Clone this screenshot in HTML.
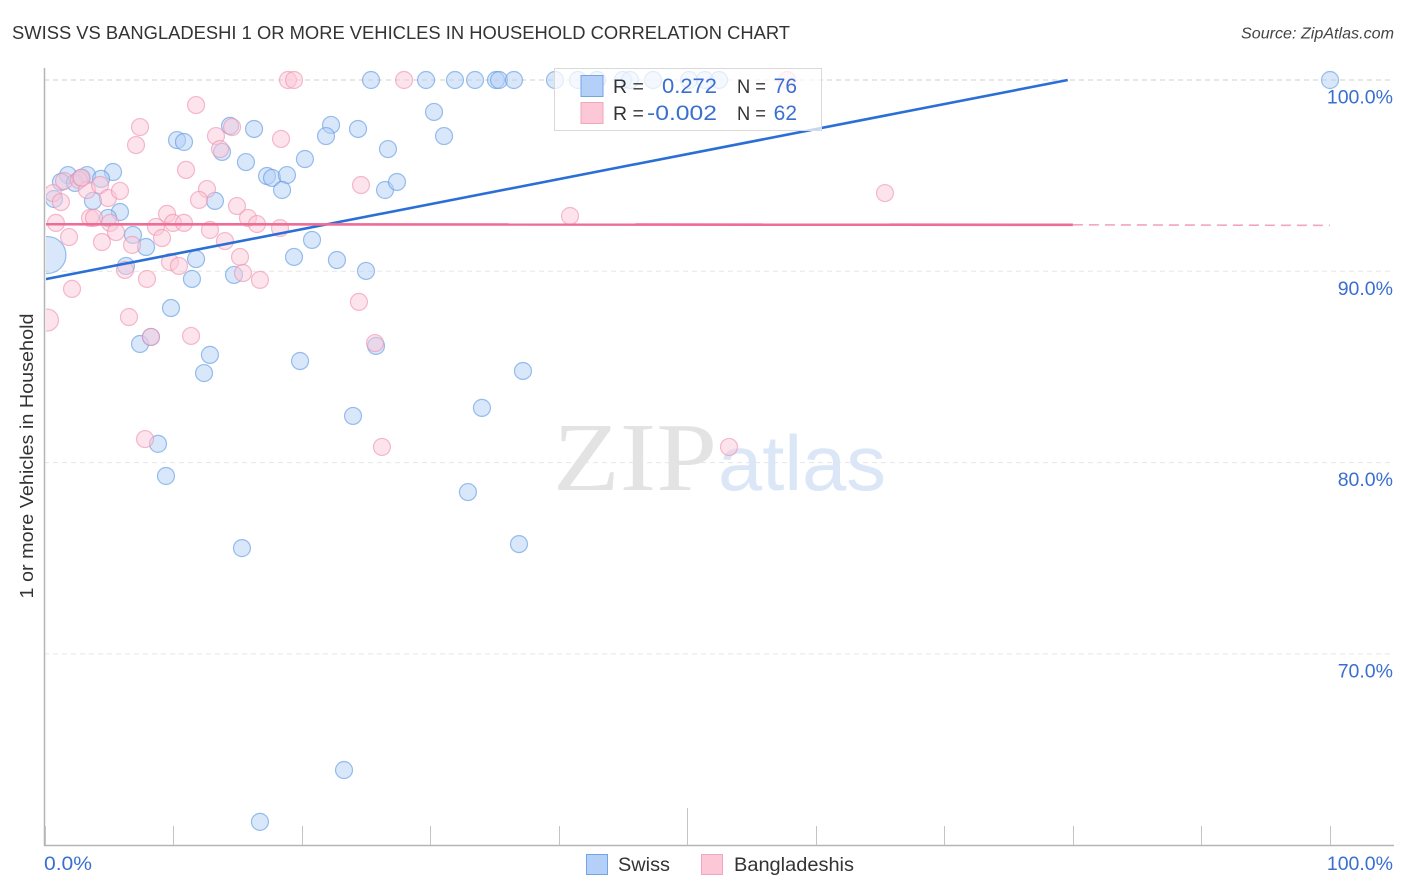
<!DOCTYPE html>
<html lang="en">
<head>
<meta charset="utf-8">
<title>Swiss vs Bangladeshi 1 or more Vehicles in Household Correlation Chart</title>
<style>
html,body{margin:0;padding:0;background:#fff;}
body{width:1406px;height:892px;overflow:hidden;}
svg{display:block;font-family:"Liberation Sans",sans-serif;}
</style>
</head>
<body>
<svg id="chart" width="1406" height="892" viewBox="0 0 1406 892" xmlns="http://www.w3.org/2000/svg">
<defs><clipPath id="plot-clip"><rect x="46" y="60" width="1350" height="785"/></clipPath></defs>
<rect width="1406" height="892" fill="#fff"/>
<text x="12" y="39" font-size="18.5" fill="#333" textLength="778" lengthAdjust="spacingAndGlyphs">SWISS VS BANGLADESHI 1 OR MORE VEHICLES IN HOUSEHOLD CORRELATION CHART</text>
<text x="1394" y="38.5" font-size="16" font-style="italic" fill="#444" text-anchor="end" textLength="153" lengthAdjust="spacingAndGlyphs">Source: ZipAtlas.com</text>
<g id="grid"></g>
<g>
<text x="553" y="490" font-family="'Liberation Serif',serif" font-size="98" fill="#e3e3e3" textLength="164" lengthAdjust="spacingAndGlyphs">ZIP</text>
<text x="718" y="490" font-size="78" fill="#dbe6f7" textLength="168" lengthAdjust="spacingAndGlyphs">atlas</text>
</g>
<g id="swiss-points" clip-path="url(#plot-clip)"></g>
<g id="bangladeshi-points" clip-path="url(#plot-clip)"></g>
<g id="trends" clip-path="url(#plot-clip)"></g>
<g id="axes"></g>
<text transform="translate(33,456) rotate(-90)" font-size="18.5" fill="#333" text-anchor="middle" textLength="285" lengthAdjust="spacingAndGlyphs">1 or more Vehicles in Household</text>
<g>
<rect x="554.5" y="68.5" width="267" height="62" fill="#fff" fill-opacity="0.72" stroke="#d9d9d9" stroke-width="1"/>
<rect x="581" y="75.5" width="22" height="21" fill="#b4d0f8" stroke="#73a5e6" stroke-width="1"/>
<rect x="581" y="102.5" width="22" height="21" fill="#fcc8d8" stroke="#f2a5bc" stroke-width="1"/>
<text x="613" y="93" font-size="19.5" fill="#333">R =</text>
<text x="662" y="93" font-size="21" fill="#3a6fd0" textLength="55" lengthAdjust="spacingAndGlyphs">0.272</text>
<text x="737" y="93" font-size="19.5" fill="#333" textLength="29" lengthAdjust="spacingAndGlyphs">N =</text>
<text x="797" y="93" font-size="21" fill="#3a6fd0" text-anchor="end">76</text>
<text x="613" y="120" font-size="19.5" fill="#333">R =</text>
<text x="647" y="120" font-size="21" fill="#3a6fd0" textLength="70" lengthAdjust="spacingAndGlyphs">-0.002</text>
<text x="737" y="120" font-size="19.5" fill="#333" textLength="29" lengthAdjust="spacingAndGlyphs">N =</text>
<text x="797" y="120" font-size="21" fill="#3a6fd0" text-anchor="end">62</text>
</g>
<g>
<rect x="586.5" y="854.5" width="21" height="20" fill="#b4d0f8" stroke="#73a5e6" stroke-width="1"/>
<text x="618" y="871" font-size="19.5" fill="#333" textLength="52" lengthAdjust="spacingAndGlyphs">Swiss</text>
<rect x="701.5" y="854.5" width="21" height="20" fill="#fcc8d8" stroke="#f2a5bc" stroke-width="1"/>
<text x="734" y="871" font-size="19.5" fill="#333" textLength="120" lengthAdjust="spacingAndGlyphs">Bangladeshis</text>
</g>
</svg>
<script>
const yTickValues = [100, 90, 80, 70];
const yTickLabels = ["100.0%", "90.0%", "80.0%", "70.0%"];
const xTickValues = [0, 10, 20, 30, 40, 50, 60, 70, 80, 90, 100];
const xEndLabels = ["0.0%", "100.0%"];

const swissX = [25.40,29.68,31.93,33.49,35.12,35.36,36.52,39.71,41.50,42.98,45.00,45.55,47.34,50.14,51.38,52.47,100,
14.43,16.30,10.31,10.85,13.81,22.29,21.90,24.39,26.72,20.26,
15.67,17.31,17.70,18.86,18.48,26.49,27.42,5.33,3.31,1.83,
1.28,2.37,2.84,4.40,0.74,3.77,5.87,4.94,13.26,6.88,
7.90,0.23,6.34,11.79,11.47,14.74,19.41,20.81,22.75,25.01,
9.84,7.43,8.28,12.87,12.41,19.88,25.79,30.30,31.08,37.22,
34.03,24.00,8.83,9.45,32.94,36.91,15.36,23.30,16.76];
const swissY = [100,100,100,100,100,100,100,100,100,100,100,100,100,100,100,100,100,
97.60,97.44,96.86,96.76,96.24,97.65,97.07,97.44,96.39,95.87,
95.71,94.98,94.88,95.03,94.25,94.25,94.67,95.19,95.03,95.03,
94.67,94.62,94.88,94.83,93.78,93.68,93.10,92.79,93.68,91.90,
91.27,90.85,90.28,90.64,89.60,89.81,90.75,91.64,90.59,90.02,
88.08,86.20,86.57,85.63,84.68,85.31,86.10,98.33,97.07,84.79,
82.86,82.44,80.98,79.30,78.46,75.74,75.53,63.93,61.22];
const swissLargeValues = [0.23];

const bangladeshiX = [18.94,19.41,27.97,57.76,11.79,7.43,7.12,14.59,13.34,13.65,
18.40,11.01,24.62,0.66,1.52,2.68,3.31,4.32,1.28,4.94,
5.87,12.64,12.02,14.97,15.83,16.53,18.32,0.89,3.54,3.85,
5.10,5.56,4.47,1.91,6.81,9.53,8.67,10.00,10.85,9.14,
12.87,14.04,15.21,9.76,10.46,15.44,16.76,6.26,7.97,2.14,
0.23,6.57,11.40,8.28,24.46,25.71,40.88,65.38,53.25,26.25,7.82,2.90];
const bangladeshiY = [100,100,100,100,98.69,97.54,96.60,97.54,97.07,96.39,
96.92,95.30,94.51,94.09,94.72,94.77,94.25,94.51,93.62,93.83,
94.20,94.30,93.73,93.41,92.79,92.47,92.26,92.53,92.79,92.79,
92.53,92.05,91.53,91.79,91.38,93.00,92.32,92.53,92.53,91.74,
92.16,91.58,90.75,90.49,90.28,89.91,89.55,90.07,89.60,89.08,
87.45,87.61,86.62,86.57,88.40,86.25,92.89,94.09,80.82,80.82,81.23,94.90];
const bangladeshiLargeValues = [0.23];

const swissTrendX = [0, 79.6];
const swissTrendY = [89.58, 100];
const bangladeshiTrendX = [0, 80];
const bangladeshiTrendY = [92.46, 92.43];
const bangladeshiForecastX = [80, 100];
const bangladeshiForecastY = [92.43, 92.40];

const NS = "http://www.w3.org/2000/svg";
function xScale(v) { return 44.5 + v * 12.855; }
function yScale(v) { return 80 + (100 - v) * 19.13; }
function make(tag, attrs, parent, text) {
  const el = document.createElementNS(NS, tag);
  for (const k in attrs) el.setAttribute(k, attrs[k]);
  if (text !== undefined) el.textContent = text;
  parent.appendChild(el);
  return el;
}

const gridGroup = document.getElementById("grid");
const axesGroup = document.getElementById("axes");
yTickValues.forEach(function (v, i) {
  const line = make("line", {x1: 44, x2: 1393, y1: yScale(v), y2: yScale(v), stroke: i === 0 ? "#cfcfcf" : "#e6e6e6", "stroke-width": 1, "stroke-dasharray": "5 4"}, gridGroup);
  
  
  const label = make("text", {x: 1393, y: yScale(v) + 23.5, "font-size": 19.5, fill: "#3a6fd0", "text-anchor": "end"}, axesGroup, yTickLabels[i]);
  
  
});

const yAxis = make("line", {x1: 44.5, x2: 44.5, y1: 68, y2: 846, stroke: "#b5b5b5", "stroke-width": 1.5}, axesGroup);


const xAxis = make("line", {x1: 44, x2: 1394, y1: 845.5, y2: 845.5, stroke: "#b5b5b5", "stroke-width": 1.5}, axesGroup);


xTickValues.forEach(function (v) {
  const px = Math.round(xScale(v)) + 0.5;
  const tick = make("line", {x1: px, x2: px, y1: v === 50 ? 808 : 826, y2: 845, stroke: "#c4c4c4", "stroke-width": 1}, axesGroup);
  
  
});
const xMinLabel = make("text", {x: 44, y: 870, "font-size": 19.5, fill: "#3a6fd0", textLength: 48, lengthAdjust: "spacingAndGlyphs"}, axesGroup, xEndLabels[0]);


const xMaxLabel = make("text", {x: 1393, y: 870, "font-size": 19.5, fill: "#3a6fd0", "text-anchor": "end"}, axesGroup, xEndLabels[1]);



function drawPoints(groupId, xs, ys, largeXs, largeRadius, fill, stroke) {
  const group = document.getElementById(groupId);
  xs.forEach(function (x, i) {
    const large = largeXs.indexOf(x) >= 0;
    const c = make("circle", {cx: xScale(x), cy: yScale(ys[i]), r: large ? largeRadius : 8.5, fill: fill, "fill-opacity": 0.5, stroke: stroke, "stroke-opacity": 0.6, "stroke-width": 1.2}, group);
    
    
  });
}
drawPoints("swiss-points", swissX, swissY, swissLargeValues, 18.5, "#b4d0f8", "#5a96e0");
drawPoints("bangladeshi-points", bangladeshiX, bangladeshiY, bangladeshiLargeValues, 11, "#fcc8d8", "#ee8fae");

const trendGroup = document.getElementById("trends");
const swissTrend = make("line", {x1: xScale(swissTrendX[0]), y1: yScale(swissTrendY[0]), x2: xScale(swissTrendX[1]), y2: yScale(swissTrendY[1]), stroke: "#2a6fd6", "stroke-width": 2.6}, trendGroup);


const bdTrend = make("line", {x1: xScale(bangladeshiTrendX[0]), y1: yScale(bangladeshiTrendY[0]), x2: xScale(bangladeshiTrendX[1]), y2: yScale(bangladeshiTrendY[1]), stroke: "#ee6c95", "stroke-width": 2.6}, trendGroup);


const bdForecast = make("line", {x1: xScale(bangladeshiForecastX[0]), y1: yScale(bangladeshiForecastY[0]), x2: xScale(bangladeshiForecastX[1]), y2: yScale(bangladeshiForecastY[1]), stroke: "#f4a3bd", "stroke-width": 1.6, "stroke-dasharray": "10 6"}, trendGroup);


</script>
</body>
</html>
